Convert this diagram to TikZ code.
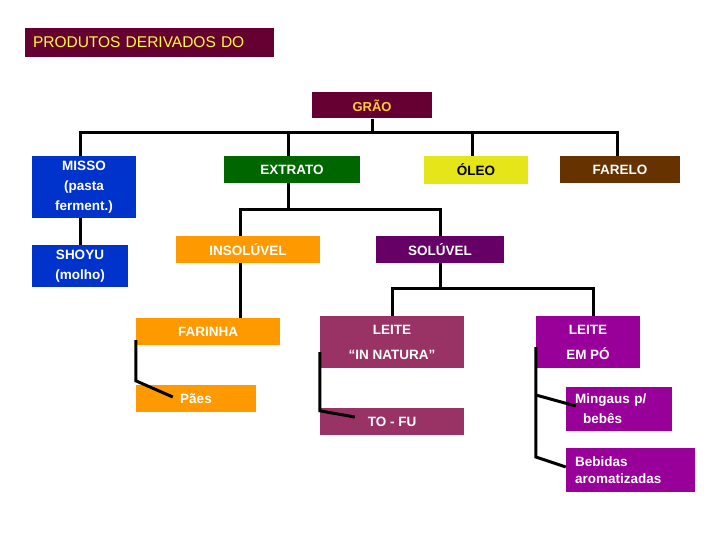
\documentclass[tikz,border=0pt]{standalone}
\usepackage{fontspec}
\setmainfont{Liberation Sans}
\usetikzlibrary{positioning, calc}

\definecolor{vinho}{HTML}{660033}
\definecolor{azul}{HTML}{0033CC}
\definecolor{verde}{HTML}{006600}
\definecolor{amarelo}{HTML}{E5E51A}
\definecolor{marrom}{HTML}{663300}
\definecolor{laranja}{HTML}{FF9900}
\definecolor{roxo}{HTML}{660066}
\definecolor{rosa}{HTML}{993366}
\definecolor{magenta}{HTML}{990099}
\definecolor{ouro}{HTML}{FFCC33}
\definecolor{titulo}{HTML}{FFFF33}

\begin{document}
\begin{tikzpicture}[
    x=1pt, y=-1pt,
    box/.style={rectangle, inner sep=0pt, text=white, align=center,
        font=\bfseries\fontsize{13.5}{20}\selectfont},
    link/.style={line width=3pt}
]
\useasboundingbox (0,0) rectangle (720,540);

% titulo e raiz
\node[box, fill=vinho, text=titulo, minimum width=249, minimum height=29, text width=233, align=left,
    font=\fontsize{15.5}{18}\selectfont] (title) at (149.5,42.5) {PRODUTOS DERIVADOS DO};
\node[box, fill=vinho, text=ouro, minimum width=120, minimum height=26,
    font=\bfseries\fontsize{13}{16}\selectfont] (grao) at (372,105.5) {GRÃO};

% primeiro nivel
\node[box, fill=azul, minimum width=104, minimum height=62] (misso) at (84,187) {MISSO\\(pasta\\ferment.)};
\node[box, fill=azul, minimum width=96, minimum height=42] (shoyu) at (80,266) {SHOYU\\(molho)};
\node[box, fill=verde, minimum width=136, minimum height=27] (extrato) at (292,169.5) {EXTRATO};
\node[box, fill=amarelo, text=black, minimum width=104, minimum height=28] (oleo) at (476,170) {ÓLEO};
\node[box, fill=marrom, minimum width=120, minimum height=27] (farelo) at (620,169.5) {FARELO};

% segundo nivel
\node[box, fill=laranja, minimum width=144, minimum height=27] (insol) at (248,249.5) {INSOLÚVEL};
\node[box, fill=roxo, minimum width=128, minimum height=27] (sol) at (440,249.5) {SOLÚVEL};

% terceiro nivel
\node[box, fill=laranja, minimum width=144, minimum height=27] (farinha) at (208,331.5) {FARINHA};
\node[box, fill=laranja, minimum width=120, minimum height=27] (paes) at (196,398.5) {Pães};
\node[box, fill=rosa, minimum width=144, minimum height=52,
    font=\bfseries\fontsize{13.5}{25}\selectfont] (natura) at (392,342) {LEITE\\“IN NATURA”};
\node[box, fill=rosa, minimum width=144, minimum height=27] (tofu) at (392,421.5) {TO - FU};
\node[box, fill=magenta, minimum width=104, minimum height=52,
    font=\bfseries\fontsize{13.5}{25}\selectfont] (empo) at (588,342) {LEITE\\EM PÓ};
\node[box, fill=magenta, minimum width=106, minimum height=44, text width=88, align=left] (mingau) at (619,409)
    {Mingaus p/\\\hspace*{8pt}bebês};
\node[box, fill=magenta, minimum width=129, minimum height=44, text width=111, align=left,
    font=\bfseries\fontsize{13.5}{17}\selectfont] (bebidas) at (630.5,470) {Bebidas\\aromatizadas};

% ligacoes
\draw[link] (grao.south) -- ++(0,14) coordinate (bar1);
\draw[link] ($(misso.north)+(-4,0)$) |- (bar1) -| ($(farelo.north)+(-3,0)$);
\draw[link] ($(extrato.north)+(-4,0)$) -- ($(extrato.north |- bar1)+(-4,0)$);
\draw[link] ($(oleo.north)+(-4,0)$) -- ($(oleo.north |- bar1)+(-4,0)$);
\draw[link] (shoyu.north) -- (shoyu.north |- misso.south);

\draw[link] ($(extrato.south)+(-4,0)$) -- ++(0,26) coordinate (bar2);
\draw[link] ($(insol.north)+(-8,0)$) |- (bar2) -| (sol.north);
\draw[link] ($(insol.south)+(-8,0)$) -- ($(insol.south |- farinha.north)+(-8,0)$);

\draw[link] (sol.south) -- ++(0,25) coordinate (bar3);
\draw[link] (natura.north) |- (bar3) -| ($(empo.north)+(5,0)$);

\draw[link] ($(farinha.south west)+(0,-5)$) -- ($(paes.north west)+(0,-4)$) -- ($(paes.west)+(37,-1.5)$);
\draw[link] ($(natura.south west)+(0,-16)$) -- ($(tofu.north west)+(0,3)$) -- ($(tofu.west)+(35,-4.5)$);
\draw[link] ($(empo.south west)+(0,-21)$) -- ($(empo.south west |- bebidas.west)+(0,-13)$) -- ($(bebidas.west)+(0,-3)$);
\draw[link] ($(empo.south west |- mingau.west)+(0,-14)$) -- ($(mingau.west)+(10,-3)$);
\end{tikzpicture}
\end{document}
